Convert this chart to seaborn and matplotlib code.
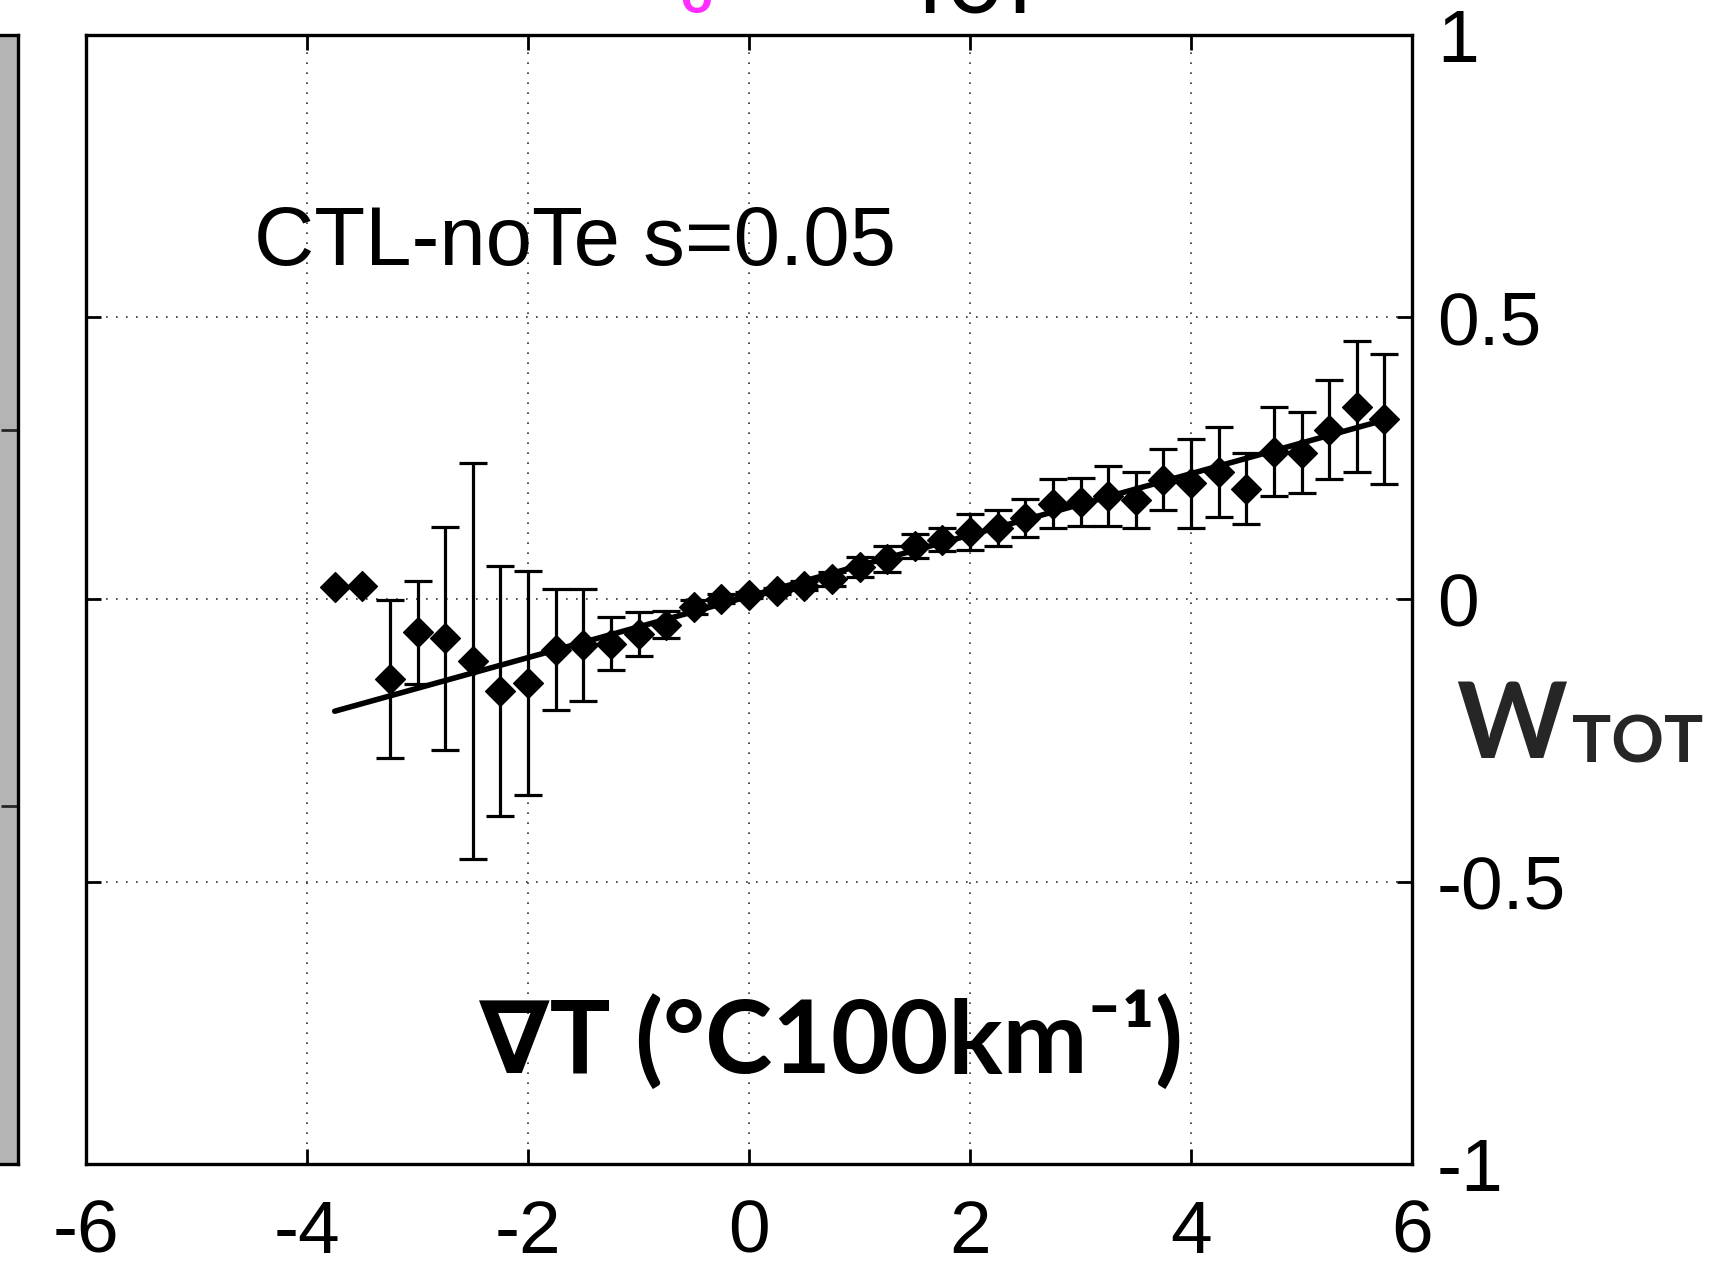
import numpy as np
import pandas as pd
import matplotlib
matplotlib.use("Agg")
import matplotlib.pyplot as plt
import seaborn as sns

# ---------------- data ----------------
grad_t = [-3.75, -3.5, -3.25, -3.0, -2.75, -2.5, -2.25, -2.0, -1.75, -1.5,
          -1.25, -1.0, -0.75, -0.5, -0.25, 0.0, 0.25, 0.5, 0.75, 1.0,
          1.25, 1.5, 1.75, 2.0, 2.25, 2.5, 2.75, 3.0, 3.25, 3.5,
          3.75, 4.0, 4.25, 4.5, 4.75, 5.0, 5.25, 5.5, 5.75]
w_tot = [0.022, 0.024, -0.141, -0.058, -0.069, -0.109, -0.162, -0.148, -0.089, -0.081,
         -0.078, -0.062, -0.045, -0.013, 0.001, 0.008, 0.015, 0.024, 0.036, 0.057,
         0.072, 0.095, 0.106, 0.120, 0.126, 0.144, 0.170, 0.173, 0.184, 0.176,
         0.212, 0.206, 0.226, 0.196, 0.262, 0.260, 0.301, 0.341, 0.320]
w_err = [np.nan, np.nan, 0.140, 0.091, 0.198, 0.350, 0.222, 0.198, 0.107, 0.099,
         0.047, 0.039, 0.024, 0.012, 0.008, 0.005, 0.006, 0.008, 0.012, 0.018,
         0.023, 0.021, 0.020, 0.032, 0.032, 0.034, 0.044, 0.043, 0.053, 0.050,
         0.054, 0.079, 0.080, 0.063, 0.079, 0.072, 0.088, 0.116, 0.115]
fit_slope = 0.0543
fit_intercept = 0.0057

x_ticks = [-6, -4, -2, 0, 2, 4, 6]
x_tick_labels = ["-6", "-4", "-2", "0", "2", "4", "6"]
y_ticks = [-1, -0.5, 0, 0.5, 1]
y_tick_labels = ["-1", "-0.5", "0", "0.5", "1"]

annotation = "CTL-noTe s=0.05"
x_label = "\u2207T (\u00b0C100km\u207b\u00b9)"
y_label_main = "W"
y_label_sub = "TOT"

df = pd.DataFrame({"grad_t": grad_t, "w_tot": w_tot, "w_err": w_err})
fit_df = pd.DataFrame({"grad_t": [grad_t[0], grad_t[-1]]})
fit_df["w_fit"] = fit_intercept + fit_slope * fit_df["grad_t"]

# ---------------- style ----------------
sns.set_theme(style="white")
plt.rcParams["font.family"] = ["Liberation Sans", "DejaVu Sans"]
plt.rcParams["axes.edgecolor"] = "black"

fig = plt.figure(figsize=(17.32, 12.67), dpi=100)
fig.patch.set_facecolor("white")

# left neighbouring (cut-off) grey panel
axl = fig.add_axes([-0.05, 0.0813, 0.0603, 0.8911])
axl.set_facecolor("#b4b4b4")
axl.set_xlim(0, 1)
axl.set_ylim(0, 1)
axl.set_xticks([])
axl.set_yticks([0.317, 0.65])
axl.set_yticklabels([])
axl.tick_params(axis="y", direction="in", length=12, width=2, left=False, right=True)
for s in axl.spines.values():
    s.set_linewidth(2.4)
    s.set_color("black")

# main axes
ax = fig.add_axes([0.0497, 0.0813, 0.7656, 0.8911])
ax.set_facecolor("white")

ax.errorbar(df["grad_t"], df["w_tot"], yerr=df["w_err"], fmt="none",
            ecolor="black", elinewidth=2.3, capsize=10, capthick=2.3, zorder=2)
sns.lineplot(data=fit_df, x="grad_t", y="w_fit", ax=ax, color="black",
             linewidth=4.0, zorder=3)
sns.scatterplot(data=df, x="grad_t", y="w_tot", ax=ax, marker="D", s=230,
                color="black", edgecolor="black", linewidth=1, zorder=4)

ax.set_xlim(-6, 6)
ax.set_ylim(-1, 1)
ax.set_xticks(x_ticks)
ax.set_xticklabels(x_tick_labels)
ax.set_yticks(y_ticks)
ax.set_yticklabels(y_tick_labels)
ax.set_xlabel("")
ax.set_ylabel("")

ax.grid(True, color="#333333", linestyle=(0, (1, 5)), linewidth=1.2)
ax.tick_params(axis="both", direction="in", length=11, width=2, colors="black",
               labelsize=54, top=True, bottom=True, left=True, right=True,
               labelleft=False, labelright=True)
ax.tick_params(axis="x", pad=25)
ax.tick_params(axis="y", pad=18)
for lab in ax.get_xticklabels() + ax.get_yticklabels():
    lab.set_family(["Liberation Sans", "DejaVu Sans"])
for s in ax.spines.values():
    s.set_linewidth(2.4)
    s.set_color("black")

ax.text(-4.48, 0.593, annotation, fontsize=60, color="black",
        family=["Liberation Sans", "DejaVu Sans"], ha="left", va="baseline")
ax.text(0.74, -0.839, x_label, fontsize=73, fontweight="bold", color="black",
        family=["Lato", "DejaVu Sans"], ha="center", va="baseline")

# right-hand label W_TOT
fig.text(0.8406, 0.4017, y_label_main, fontsize=76, fontweight="bold",
         family=["Lato", "DejaVu Sans"], ha="left", va="baseline")
fig.text(0.9076, 0.3985, y_label_sub, fontsize=47, fontweight="bold",
         family=["Lato", "DejaVu Sans"], ha="left", va="baseline")

# cut-off title fragments at the top edge (the reference shows only their lower parts)
fig.text(0.402, 1 - 13 / 1267, "o", fontsize=40, fontweight="bold", color="#ff2bff",
         family=["Lato", "DejaVu Sans"], ha="center", va="baseline")
fig.text(0.563, 1 - 13 / 1267, "TOT", fontsize=46, fontweight="bold", color="black",
         family=["Lato", "DejaVu Sans"], ha="center", va="baseline")

fig.savefig("out.png", dpi=100, facecolor="white")
